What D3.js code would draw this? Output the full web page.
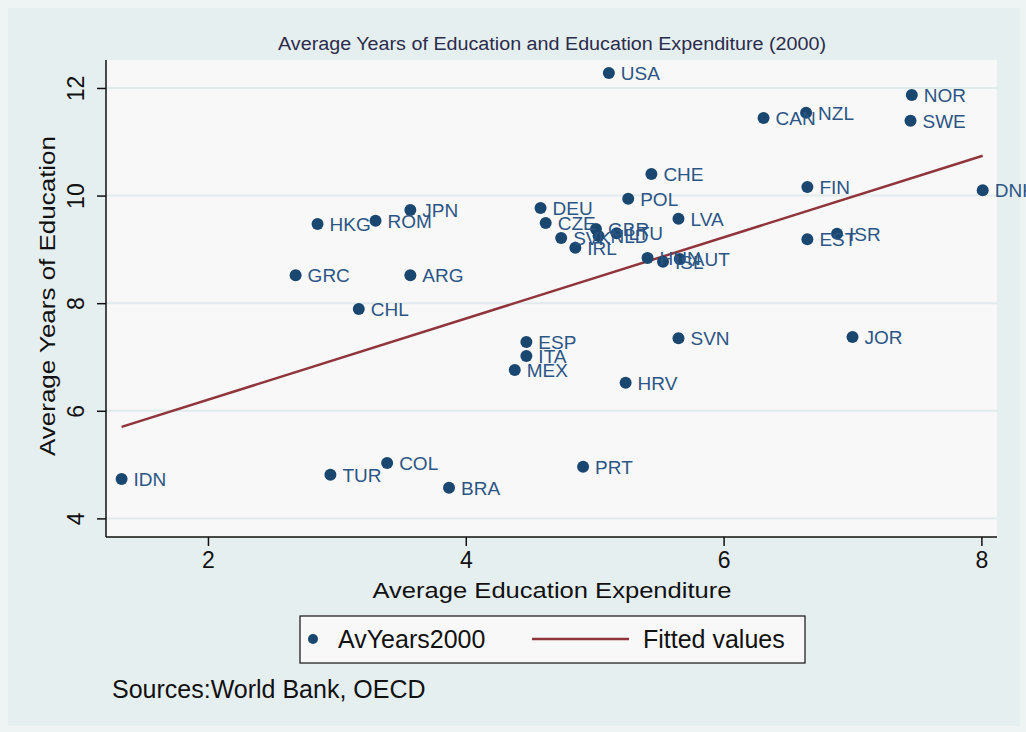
<!DOCTYPE html>
<html lang="en">
<head>
<meta charset="utf-8">
<title>Average Years of Education and Education Expenditure (2000)</title>
<script src="https://cdn.jsdelivr.net/npm/d3@7"></script>
<style>
  body { margin: 0; background: #e8f1f1; }
  svg { display: block; font-family: Arial, "Liberation Sans", sans-serif; }
</style>
</head>
<body>
<svg id="chart" width="1026" height="732"></svg>
<script>
// country codes, expenditure (x) and years of education (y)
var countries = ["USA","NOR","SWE","CAN","NZL","CHE","POL","FIN","DNK","DEU","JPN","HKG","ROM","LVA","CZE",
  "GBR","NLD","LTU","SVK","IRL","HUN","ISL","AUT","GRC","ARG","EST","ISR","CHL","ESP","ITA","MEX","SVN",
  "JOR","HRV","IDN","TUR","COL","BRA","PRT"];
var expenditure = [5.11,7.46,7.45,6.31,6.64,5.44,5.26,6.65,8.01,4.58,3.57,2.85,3.30,5.65,4.62,
  5.01,5.03,5.17,4.74,4.85,5.41,5.53,5.66,2.68,3.57,6.65,6.88,3.17,4.47,4.47,4.38,5.65,
  7.00,5.24,1.33,2.95,3.39,3.87,4.91];
var avYears = [12.28,11.87,11.39,11.44,11.54,10.40,9.94,10.16,10.10,9.77,9.73,9.47,9.53,9.57,9.49,
  9.38,9.25,9.30,9.21,9.03,8.84,8.77,8.82,8.52,8.52,9.19,9.29,7.89,7.28,7.02,6.76,7.35,
  7.37,6.52,4.73,4.81,5.03,4.57,4.96];

// fitted line end points
var fitX = [1.33, 8.01];
var fitY = [5.70, 10.74];

var xTicks = [2, 4, 6, 8];
var yTicks = [4, 6, 8, 10, 12];

var navy = "#1a476f", maroon = "#90353b";

var svg = d3.select("#chart");
var pl = 106, pr = 997, pt = 60, pb = 537;

var x = d3.scaleLinear().domain([1.209, 8.121]).range([pl, pr]);
var y = d3.scaleLinear().domain([3.654, 12.52]).range([pb, pt]);

// outer background
svg.append("rect").attr("width", 1026).attr("height", 732).attr("fill", "#eef4f4");
svg.append("rect").attr("x", 8).attr("y", 8).attr("width", 1012).attr("height", 718).attr("fill", "#e6eff0");

// plot region
svg.append("rect").attr("x", pl).attr("y", pt)
  .attr("width", pr - pl).attr("height", pb - pt).attr("fill", "#f8f8f8");

svg.append("g").selectAll("line").data(yTicks).join("line")
  .attr("x1", pl).attr("x2", pr)
  .attr("y1", d => y(d)).attr("y2", d => y(d))
  .attr("stroke", "#e1ebec").attr("stroke-width", 2);

// title
svg.append("text").attr("x", 552).attr("y", 50).attr("text-anchor", "middle")
  .attr("font-size", 18).attr("fill", "#2b2b4b")
  .attr("textLength", 548).attr("lengthAdjust", "spacingAndGlyphs")
  .text("Average Years of Education and Education Expenditure (2000)");

// axes
var xAxis = svg.append("g").attr("transform", "translate(0," + pb + ")")
  .call(d3.axisBottom(x).tickValues(xTicks).tickSize(9).tickPadding(6).tickFormat(d3.format("d")));
xAxis.select(".domain").attr("d", "M" + pl + ",0H" + pr).attr("stroke", "#111").attr("stroke-width", 1.5);
xAxis.selectAll(".tick line").attr("stroke", "#111").attr("stroke-width", 1.5);
xAxis.selectAll(".tick text").attr("font-size", 23).attr("fill", "#111").attr("font-family", null);

var yAxis = svg.append("g").attr("transform", "translate(" + pl + ",0)")
  .call(d3.axisLeft(y).tickValues(yTicks).tickSize(9).tickFormat(d3.format("d")));
yAxis.select(".domain").attr("d", "M0," + pt + "V" + pb).attr("stroke", "#111").attr("stroke-width", 1.5);
yAxis.selectAll(".tick line").attr("stroke", "#111").attr("stroke-width", 1.5);
yAxis.selectAll(".tick text")
  .attr("font-size", 23).attr("fill", "#111").attr("font-family", null)
  .attr("x", null).attr("dy", null)
  .attr("text-anchor", "middle")
  .attr("transform", "translate(-22,0) rotate(-90)")
  .attr("y", 0);

svg.append("text").attr("x", 552).attr("y", 598).attr("text-anchor", "middle")
  .attr("font-size", 22).attr("fill", "#111")
  .attr("textLength", 359).attr("lengthAdjust", "spacingAndGlyphs")
  .text("Average Education Expenditure");
svg.append("text").attr("transform", "translate(55,296) rotate(-90)").attr("text-anchor", "middle")
  .attr("font-size", 22).attr("fill", "#111")
  .attr("textLength", 320).attr("lengthAdjust", "spacingAndGlyphs")
  .text("Average Years of Education");

// fitted line
var line = d3.line().x(d => x(d[0])).y(d => y(d[1]));
svg.append("path").datum(d3.zip(fitX, fitY)).attr("d", line)
  .attr("fill", "none").attr("stroke", maroon).attr("stroke-width", 2.5);

// points and labels
var pts = d3.zip(countries, expenditure, avYears);
var g = svg.append("g");
g.selectAll("circle").data(pts).join("circle")
  .attr("cx", d => x(d[1])).attr("cy", d => y(d[2])).attr("r", 6).attr("fill", navy);
g.selectAll("text").data(pts).join("text")
  .attr("x", d => x(d[1]) + 12).attr("y", d => y(d[2]) + 7)
  .attr("font-size", 19).attr("fill", "#2c5585")
  .text(d => d[0]);

// legend
var lg = svg.append("g");
lg.append("rect").attr("x", 300).attr("y", 616).attr("width", 505).attr("height", 47)
  .attr("fill", "#f8f8f8").attr("stroke", "#111").attr("stroke-width", 1.2);
lg.append("circle").attr("cx", 313).attr("cy", 639).attr("r", 5).attr("fill", navy);
lg.append("text").attr("x", 338).attr("y", 648).attr("font-size", 25).attr("fill", "#111").text("AvYears2000");
lg.append("line").attr("x1", 532).attr("x2", 629).attr("y1", 639).attr("y2", 639)
  .attr("stroke", maroon).attr("stroke-width", 2.5);
lg.append("text").attr("x", 643).attr("y", 648).attr("font-size", 25).attr("fill", "#111").text("Fitted values");

svg.append("text").attr("x", 112).attr("y", 698).attr("font-size", 25).attr("fill", "#111")
  .text("Sources:World Bank, OECD");
</script>
</body>
</html>
